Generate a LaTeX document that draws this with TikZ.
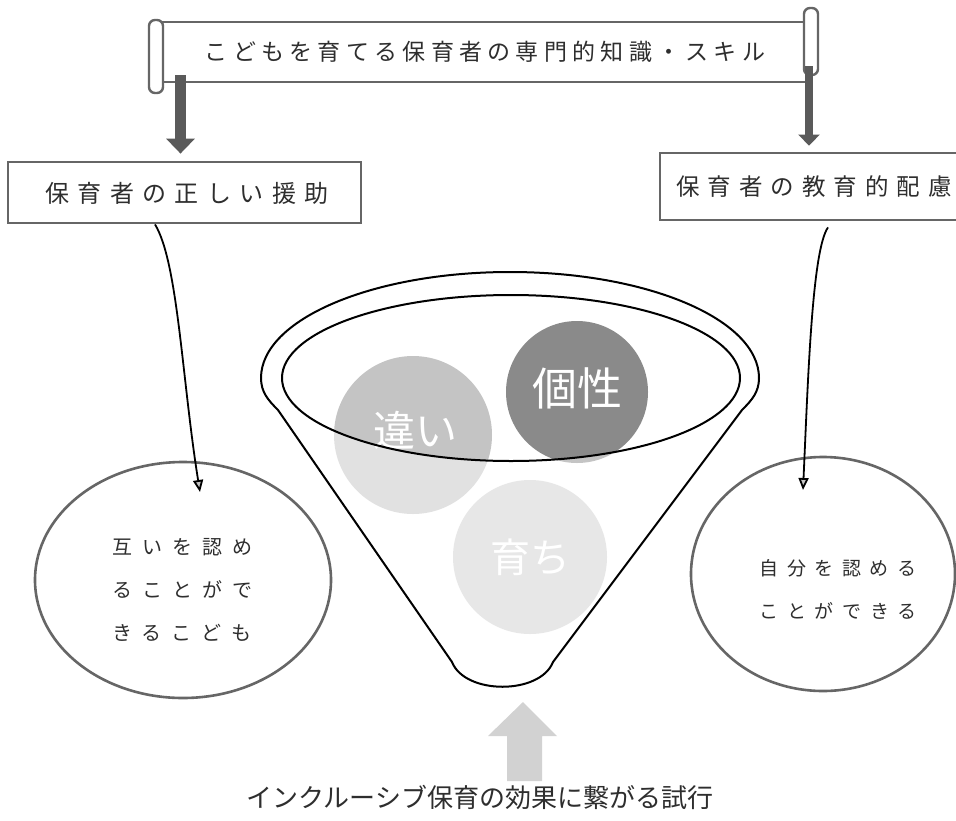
\documentclass[tikz,border=0pt]{standalone}
\usepackage{fontspec}
\newfontfamily\jp{Noto Sans CJK JP}
\usetikzlibrary{arrows.meta,shapes.geometric}
\definecolor{ink}{HTML}{2E2E2E}
\definecolor{edge}{HTML}{666666}
\definecolor{chigai}{HTML}{C4C4C4}
\definecolor{kosei}{HTML}{8A8A8A}
\definecolor{sodachi}{HTML}{CFCFCF}
\definecolor{barrow}{HTML}{5A5A5A}
\definecolor{uparrow}{HTML}{D2D2D2}
\begin{document}
\begin{tikzpicture}[x=1pt,y=-1pt,
  lbl/.style={text=ink, inner sep=0pt},
  boxframe/.style={draw=edge, line width=2.8pt, fill=white, inner sep=0pt},
  ovalframe/.style={ellipse, draw=edge, line width=2.6pt, inner sep=0pt},
  curlframe/.style={draw=edge, line width=2.4pt, fill=white, rounded corners=6pt},
  blockarrow/.style={draw=barrow},
  curvearrow/.style={draw=black, line width=1.8pt, -{Triangle[length=12pt,width=10pt,fill=gray!45]}},
  funnelline/.style={draw=black, line width=2pt},
  ball/.style={circle, inner sep=0pt},
  balltext/.style={text=white, inner sep=0pt}
]
\useasboundingbox (0,0) rectangle (956,820);
\fill[white] (0,0) rectangle (956,820);

% banner (scroll)
\node[boxframe, minimum width=654pt, minimum height=60pt] (banner) at (485,52) {};
\draw[curlframe] (149,20) rectangle (163,93);
\draw[curlframe] (804,8) rectangle (818,75);
\node[lbl, font=\jp\fontsize{23}{28}\selectfont\addfontfeature{LetterSpace=23}] (bannertext) at (485,52) {こどもを育てる保育者の専門的知識・スキル};

% boxes
\node[boxframe, minimum width=353pt, minimum height=61pt] (lbox) at (184.5,192.5) {};
\node[lbl, font=\jp\fontsize{24}{28}\selectfont\addfontfeature{LetterSpace=35}] (ltext) at (187,193) {保育者の正しい援助};
\node[boxframe, minimum width=302pt, minimum height=67pt] (rbox) at (811,186.5) {};
\node[lbl, font=\jp\fontsize{23.5}{28}\selectfont\addfontfeature{LetterSpace=34}] (rtext) at (814,187) {保育者の教育的配慮};

% block arrows from banner
\coordinate (a1) at (180.5,75);
\coordinate (a2) at (809,66);
\draw[blockarrow, line width=11pt, -{Triangle[length=15pt,width=28pt]}, shorten >=7pt] (a1) -- (lbox.north -| a1);
\draw[blockarrow, line width=8pt, -{Triangle[length=11pt,width=21pt]}, shorten >=6pt] (a2) -- (rbox.north -| a2);

% ellipses
\node[ovalframe, minimum width=296pt, minimum height=236pt] (lov) at (183,580) {};
\node[lbl, align=center, font=\jp\fontsize{20}{43}\selectfont\addfontfeature{LetterSpace=50}] (lovtext) at (182,590) {互いを認め\\ることがで\\きるこども};
\node[ovalframe, minimum width=264pt, minimum height=234pt] (rov) at (823,574) {};
\node[lbl, align=center, font=\jp\fontsize{19}{43}\selectfont\addfontfeature{LetterSpace=45}] (rovtext) at (838,589) {自分を認める\\ことができる};

% curved arrows
\coordinate (lend) at (200,492);
\coordinate (rend) at (803,490);
\draw[curvearrow] ([xshift=-29.5pt]lbox.south) .. controls (178,262) and (182,380) .. (lend);
\draw[curvearrow] ([xshift=17pt,yshift=-6pt]rbox.south) .. controls (812,250) and (808,380) .. (rend);

% balls
\node[ball, fill=chigai, minimum size=158pt] (b1) at (413,435) {};
\node[ball, fill=kosei, minimum size=142pt] (b2) at (577,392) {};
\node[ball, fill=sodachi, minimum size=154pt] (b3) at (530,557) {};
\node[balltext, font=\jp\fontsize{42}{44}\selectfont] at (415,430) {違い};
\node[balltext, font=\jp\fontsize{45}{46}\selectfont] at (577,388) {個性};
\node[balltext, font=\jp\fontsize{40}{42}\selectfont] at (530,557) {育ち};

% fade of funnel body
\fill[white, fill opacity=0.5, even odd rule]
  (261,378) arc[start angle=180, end angle=360, x radius=249, y radius=106]
  .. controls (759,392) and (752,400) .. (742,410) -- (553,662)
  .. controls (540,695) and (465,695) .. (452,662) -- (278,410)
  .. controls (268,400) and (261,392) .. (261,378) -- cycle
  (511,378) ellipse[x radius=229, y radius=83];

% funnel outlines
\draw[funnelline]
  (261,378) arc[start angle=180, end angle=360, x radius=249, y radius=106]
  .. controls (759,392) and (752,400) .. (742,410) -- (553,662)
  .. controls (540,695) and (465,695) .. (452,662) -- (278,410)
  .. controls (268,400) and (261,392) .. (261,378) -- cycle;
\draw[funnelline] (511,378) ellipse[x radius=229, y radius=83];

% up arrow and bottom text
\fill[uparrow] (507,781) -- (507,736) -- (488,736) -- (523,702) -- (557,736) -- (542,736) -- (542,781) -- cycle;
\node[lbl, font=\jp\fontsize{26}{30}\selectfont] (bottom) at (480,797) {インクルーシブ保育の効果に繋がる試行};
\end{tikzpicture}
\end{document}
